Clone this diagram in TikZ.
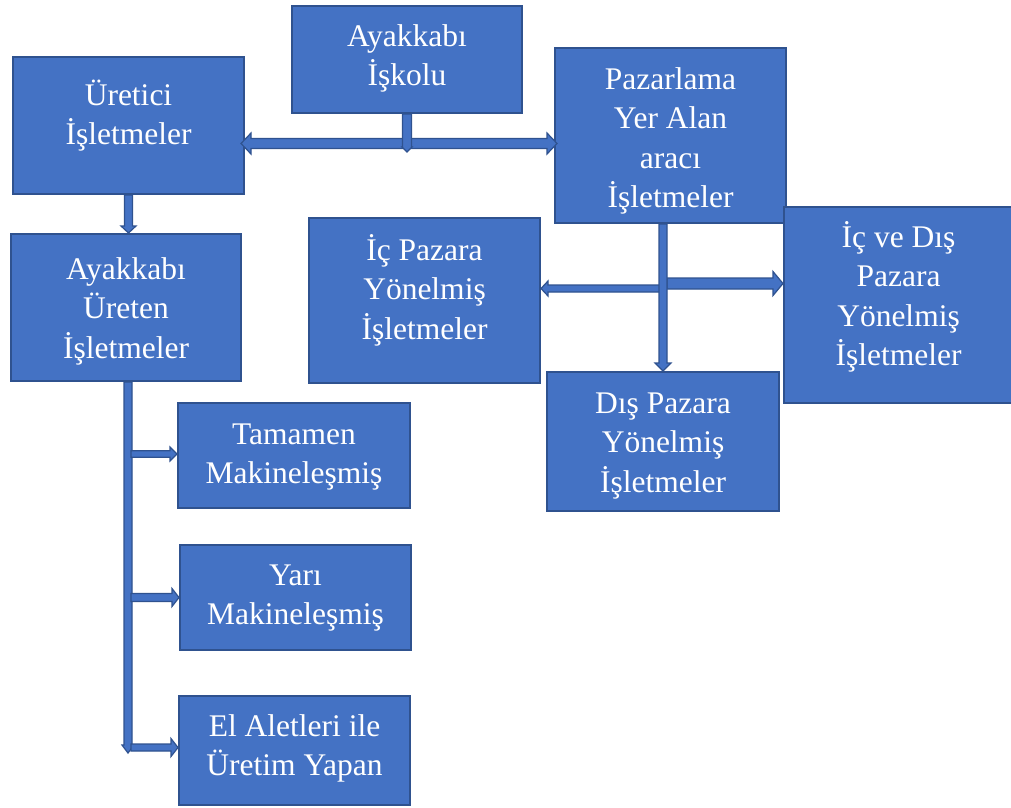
\documentclass[tikz,border=0pt]{standalone}
\usepackage{fontspec}
\setmainfont{Liberation Serif}
\newfontfamily\boxfont{Liberation Serif}
\usetikzlibrary{calc}
\definecolor{boxfill}{HTML}{4472C4}
\definecolor{boxline}{HTML}{2F528F}
\newcommand\boxstrut{\rule{0pt}{30pt}}

\tikzset{
  aw/.store in=\aw, ah/.store in=\ah, al/.store in=\al,
  aw=3.5pt, ah=7pt, al=7pt,
  box/.style={rectangle, fill=boxfill, draw=boxline, line width=2pt, inner sep=0pt},
  boxtext/.style={anchor=north, inner sep=0pt, align=center, text=white,
    font=\boxfont\fontsize{31.5}{39.5}\selectfont},
  arrowbody/.style={fill=boxfill, draw=boxline, line width=1.2pt, line join=miter},
  % block arrow with one head at the target
  blockarrow/.style={arrowbody, to path={
    ($(\tikztostart)!\aw!90:(\tikztotarget)$)
    -- ($($(\tikztotarget)!\al!(\tikztostart)$)!\aw!90:(\tikztotarget)$)
    -- ($($(\tikztotarget)!\al!(\tikztostart)$)!\ah!90:(\tikztotarget)$)
    -- (\tikztotarget)
    -- ($($(\tikztotarget)!\al!(\tikztostart)$)!\ah!-90:(\tikztotarget)$)
    -- ($($(\tikztotarget)!\al!(\tikztostart)$)!\aw!-90:(\tikztotarget)$)
    -- ($(\tikztostart)!\aw!-90:(\tikztotarget)$)
    -- cycle}},
  % block arrow with heads at both ends
  dblockarrow/.style={arrowbody, to path={
    (\tikztostart)
    -- ($($(\tikztostart)!\al!(\tikztotarget)$)!\ah!90:(\tikztotarget)$)
    -- ($($(\tikztostart)!\al!(\tikztotarget)$)!\aw!90:(\tikztotarget)$)
    -- ($($(\tikztotarget)!\al!(\tikztostart)$)!\aw!90:(\tikztotarget)$)
    -- ($($(\tikztotarget)!\al!(\tikztostart)$)!\ah!90:(\tikztotarget)$)
    -- (\tikztotarget)
    -- ($($(\tikztotarget)!\al!(\tikztostart)$)!\ah!-90:(\tikztotarget)$)
    -- ($($(\tikztotarget)!\al!(\tikztostart)$)!\aw!-90:(\tikztotarget)$)
    -- ($($(\tikztostart)!\al!(\tikztotarget)$)!\aw!-90:(\tikztotarget)$)
    -- ($($(\tikztostart)!\al!(\tikztotarget)$)!\ah!-90:(\tikztotarget)$)
    -- cycle}}
}

\begin{document}
\begin{tikzpicture}[x=1pt,y=-1pt]
\useasboundingbox (0,0) rectangle (1011,807);

% boxes
\node[box, minimum width=230pt, minimum height=107pt] (isk) at (407,59.5) {};
\node[box, minimum width=231pt, minimum height=137pt] (ure) at (128.5,125.5) {};
\node[box, minimum width=231pt, minimum height=175pt] (paz) at (670.5,135.5) {};
\node[box, minimum width=230pt, minimum height=147pt] (ayu) at (126,307.5) {};
\node[box, minimum width=231pt, minimum height=165pt] (icp) at (424.5,300.5) {};
\node[box, minimum width=229pt, minimum height=196pt] (icd) at (898.5,305) {};
\node[box, minimum width=232pt, minimum height=139pt] (dis) at (663,441.5) {};
\node[box, minimum width=232pt, minimum height=105pt] (tam) at (294,455.5) {};
\node[box, minimum width=231pt, minimum height=105pt] (yar) at (295.5,597.5) {};
\node[box, minimum width=231pt, minimum height=109pt] (ela) at (294.5,750.5) {};

% labels
\node[boxtext] (isk-t) at (407,16) {\boxstrut Ayakkabı\\İşkolu};
\node[boxtext] (ure-t) at (128.5,75) {\boxstrut Üretici\\İşletmeler};
\node[boxtext] (paz-t) at (670.5,59) {\boxstrut Pazarlama\\Yer Alan\\aracı\\İşletmeler};
\node[boxtext] (ayu-t) at (126,249) {\boxstrut Ayakkabı\\Üreten\\İşletmeler};
\node[boxtext] (icp-t) at (424.5,230) {\boxstrut İç Pazara\\Yönelmiş\\İşletmeler};
\node[boxtext] (icd-t) at (898.5,217) {\boxstrut İç ve Dış\\Pazara\\Yönelmiş\\İşletmeler};
\node[boxtext] (dis-t) at (663,383) {\boxstrut Dış Pazara\\Yönelmiş\\İşletmeler};
\node[boxtext] (tam-t) at (294,414) {\boxstrut Tamamen\\Makineleşmiş};
\node[boxtext] (yar-t) at (295.5,555) {\boxstrut Yarı\\Makineleşmiş};
\node[boxtext] (ela-t) at (294.5,706) {\boxstrut El Aletleri ile\\Üretim Yapan};

% junction points and free ends
\coordinate (hbar) at (400,143.5);
\coordinate (iskend) at (407,152);
\coordinate (pazx) at (663,0);
\coordinate (jl) at (660,288.5);
\coordinate (jr) at (667,283.5);
\coordinate (trunkend) at (128,753);
\coordinate (b1) at (131,454);
\coordinate (b2) at (131,597.5);
\coordinate (b3) at (131,747.5);

% top: trade branch between producers and marketing firms
\path[dblockarrow, aw=5pt, ah=10.5pt, al=10pt]
  ([xshift=-4pt]hbar -| ure.east) to ([xshift=3pt]hbar -| paz.west);
\path[blockarrow, aw=4.5pt, ah=5pt, al=5pt] (isk.south) to (iskend);

% producers -> shoe producing firms
\path[blockarrow, aw=4pt, ah=7.5pt, al=7pt] (ure.south) to (ure.south |- ayu.north);

% marketing firms and their market branches
\path[blockarrow, aw=3.5pt, ah=7.5pt, al=7pt] (jl) to (jl -| icp.east);
\path[blockarrow, aw=5.5pt, ah=12pt, al=10pt] (jr) to (jr -| icd.west);
\path[blockarrow, aw=4pt, ah=8pt, al=8pt] (pazx |- paz.south) to (dis.north);

% production types
\path[blockarrow, aw=4pt, ah=6pt, al=8pt] (ayu.south -| trunkend) to (trunkend);
\path[blockarrow, aw=3.2pt, ah=7pt, al=7pt] (b1) to (b1 -| tam.west);
\path[blockarrow, aw=4pt, ah=9pt, al=7pt] (b2) to (b2 -| yar.west);
\path[blockarrow, aw=3.5pt, ah=9pt, al=7pt] (b3) to (b3 -| ela.west);
\end{tikzpicture}
\end{document}
